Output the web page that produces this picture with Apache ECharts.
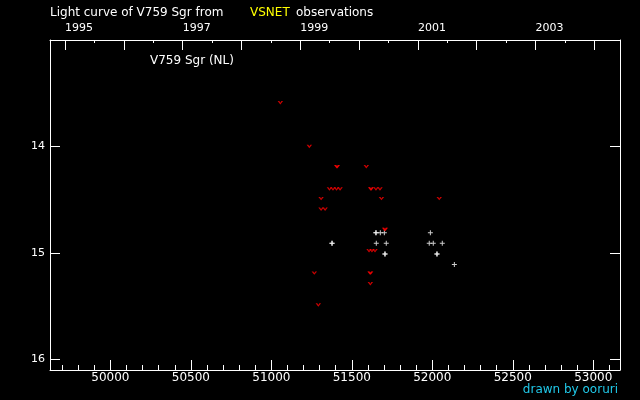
<!DOCTYPE html>
<html><head><meta charset="utf-8">
<script src="https://cdn.jsdelivr.net/npm/echarts@6/dist/echarts.min.js"></script>
<style>html,body{margin:0;padding:0;background:#000;}#c{width:640px;height:400px;}</style>
</head><body><div id="c"></div>
<script>
// ---- axis ranges & tick labels ----
const jdMin = 49625, jdMax = 53166;           // JD - 2400000
const magMin = 13.0, magMax = 16.1;
const jdMajorTicks = [50000, 50500, 51000, 51500, 52000, 52500, 53000];
const yearTicks = [1995, 1996, 1997, 1998, 1999, 2000, 2001, 2002, 2003, 2004];
const yearLabels = [1995, 1997, 1999, 2001, 2003];
const magTicks = [14, 15, 16];

// ---- observations (JD-2400000, magnitude) ----
// fainter-than (upper limit) observations, red "v"
const fainterJD  = [51056, 51236, 51406, 51410, 51590, 51361, 51383, 51405, 51427, 51617, 51621, 51650, 51675,
                    51309, 51684, 52043, 51309, 51334, 51704, 51708, 51607, 51625, 51644, 51267, 51613, 51617,
                    51615, 51292];
const fainterMag = [13.59, 14.00, 14.19, 14.19, 14.19, 14.40, 14.40, 14.40, 14.40, 14.40, 14.40, 14.40, 14.40,
                    14.49, 14.49, 14.49, 14.59, 14.59, 14.78, 14.78, 14.98, 14.98, 14.98, 15.19, 15.19, 15.19,
                    15.29, 15.49];
// positive observations, white "+"
const brightJD  = [51375, 51379, 51648, 51652, 51677, 51702, 51652, 51714, 51704, 51708, 51988, 51981, 52006,
                   52062, 52027, 52031, 52137];
const brightMag = [14.91, 14.91, 14.81, 14.81, 14.81, 14.81, 14.91, 14.91, 15.01, 15.01, 14.81, 14.91, 14.91,
                   14.91, 15.01, 15.01, 15.11];

// ---- helpers ----
const jdOfYear = y => Date.UTC(y, 0, 1) / 86400000 + 40587.5;
const yearTickJD = yearTicks.map(jdOfYear);
const halfYearJD = [];
for (let i = 0; i < yearTickJD.length - 1; i++) halfYearJD.push((yearTickJD[i] + yearTickJD[i + 1]) / 2);
const yearLabelJD = yearLabels.map(jdOfYear);
const jdMinorTicks = [];
for (let v = Math.ceil(jdMin / 100) * 100; v <= jdMax; v += 100) if (v % 500 !== 0) jdMinorTicks.push(v);

const FONT = 'DejaVu Sans';
const white = '#ffffff';
const plusPath = 'path://M2,0 H3 V2 H5 V3 H3 V5 H2 V3 H0 V2 H2 Z';
const vPath = 'path://M0,0 L1.6,0 L2.5,1.6 L3.4,0 L5,0 L2.5,3.4 Z';

const baseX = {type: 'value', min: jdMin, max: jdMax, splitLine: {show: false}};
const chart = echarts.init(document.getElementById('c'), null, {renderer: 'canvas'});
chart.setOption({
  backgroundColor: '#000',
  animation: false,
  grid: {left: 50, right: 20, top: 40, bottom: 30, containLabel: false, outerBoundsMode: 'none'},
  xAxis: [
    Object.assign({}, baseX, {
      position: 'bottom',
      axisLine: {show: true, onZero: false, lineStyle: {color: white, width: 1}},
      axisTick: {show: true, inside: true, length: 10, customValues: jdMajorTicks, lineStyle: {color: white}},
      axisLabel: {show: true, customValues: jdMajorTicks, color: white, fontFamily: FONT, fontSize: 12, margin: 2,
        formatter: v => String(Math.round(v))}
    }),
    Object.assign({}, baseX, {
      position: 'bottom',
      axisLine: {show: false, onZero: false},
      axisTick: {show: true, inside: true, length: 5, customValues: jdMinorTicks, lineStyle: {color: white}},
      axisLabel: {show: false}
    }),
    Object.assign({}, baseX, {
      position: 'top',
      axisLine: {show: true, onZero: false, lineStyle: {color: white, width: 1}},
      axisTick: {show: true, inside: true, length: 10, customValues: yearTickJD, lineStyle: {color: white}},
      axisLabel: {show: true, customValues: yearLabelJD, color: white, fontFamily: FONT, fontSize: 11,
        margin: 6, align: 'left',
        formatter: v => String(yearLabels[yearLabelJD.findIndex(j => Math.abs(j - v) < 1)])}
    }),
    Object.assign({}, baseX, {
      position: 'top',
      axisLine: {show: false, onZero: false},
      axisTick: {show: true, inside: true, length: 3, customValues: halfYearJD, lineStyle: {color: white}},
      axisLabel: {show: false}
    })
  ],
  yAxis: [
    {type: 'value', inverse: true, min: magMin, max: magMax, position: 'left', splitLine: {show: false},
      axisLine: {show: true, onZero: false, lineStyle: {color: white, width: 1}},
      axisTick: {show: true, inside: true, length: 10, customValues: magTicks, lineStyle: {color: white}},
      axisLabel: {show: true, customValues: magTicks, color: white, fontFamily: FONT, fontSize: 11, margin: 5}},
    {type: 'value', inverse: true, min: magMin, max: magMax, position: 'right', splitLine: {show: false},
      axisLine: {show: true, onZero: false, lineStyle: {color: white, width: 1}},
      axisTick: {show: true, inside: true, length: 10, customValues: magTicks, lineStyle: {color: white}},
      axisLabel: {show: false}}
  ],
  series: [
    {type: 'scatter', xAxisIndex: 0, yAxisIndex: 0, silent: true,
      data: brightJD.map((x, i) => [x, brightMag[i]]),
      symbol: plusPath, symbolSize: 5, itemStyle: {color: white}},
    {type: 'scatter', xAxisIndex: 0, yAxisIndex: 0, silent: true,
      data: fainterJD.map((x, i) => [x, fainterMag[i]]),
      symbol: vPath, symbolSize: [5.5, 3.4], itemStyle: {color: '#ff0000'}}
  ],
  graphic: [
    {type: 'text', x: 50, y: 12.5, style: {text: 'Light curve of V759 Sgr from', fill: white, font: '12px ' + FONT, verticalAlign: 'middle'}},
    {type: 'text', x: 250, y: 12.5, style: {text: 'VSNET', fill: '#ffff00', font: '12px ' + FONT, verticalAlign: 'middle'}},
    {type: 'text', x: 296, y: 12.5, style: {text: 'observations', fill: white, font: '12px ' + FONT, verticalAlign: 'middle'}},
    {type: 'text', x: 150, y: 60.5, style: {text: 'V759 Sgr (NL)', fill: white, font: '12px ' + FONT, verticalAlign: 'middle'}},
    {type: 'text', x: 618, y: 390, style: {text: 'drawn by ooruri', fill: '#20c8e8', font: '12px ' + FONT, align: 'right', verticalAlign: 'middle'}}
  ]
});
</script>
</body></html>
